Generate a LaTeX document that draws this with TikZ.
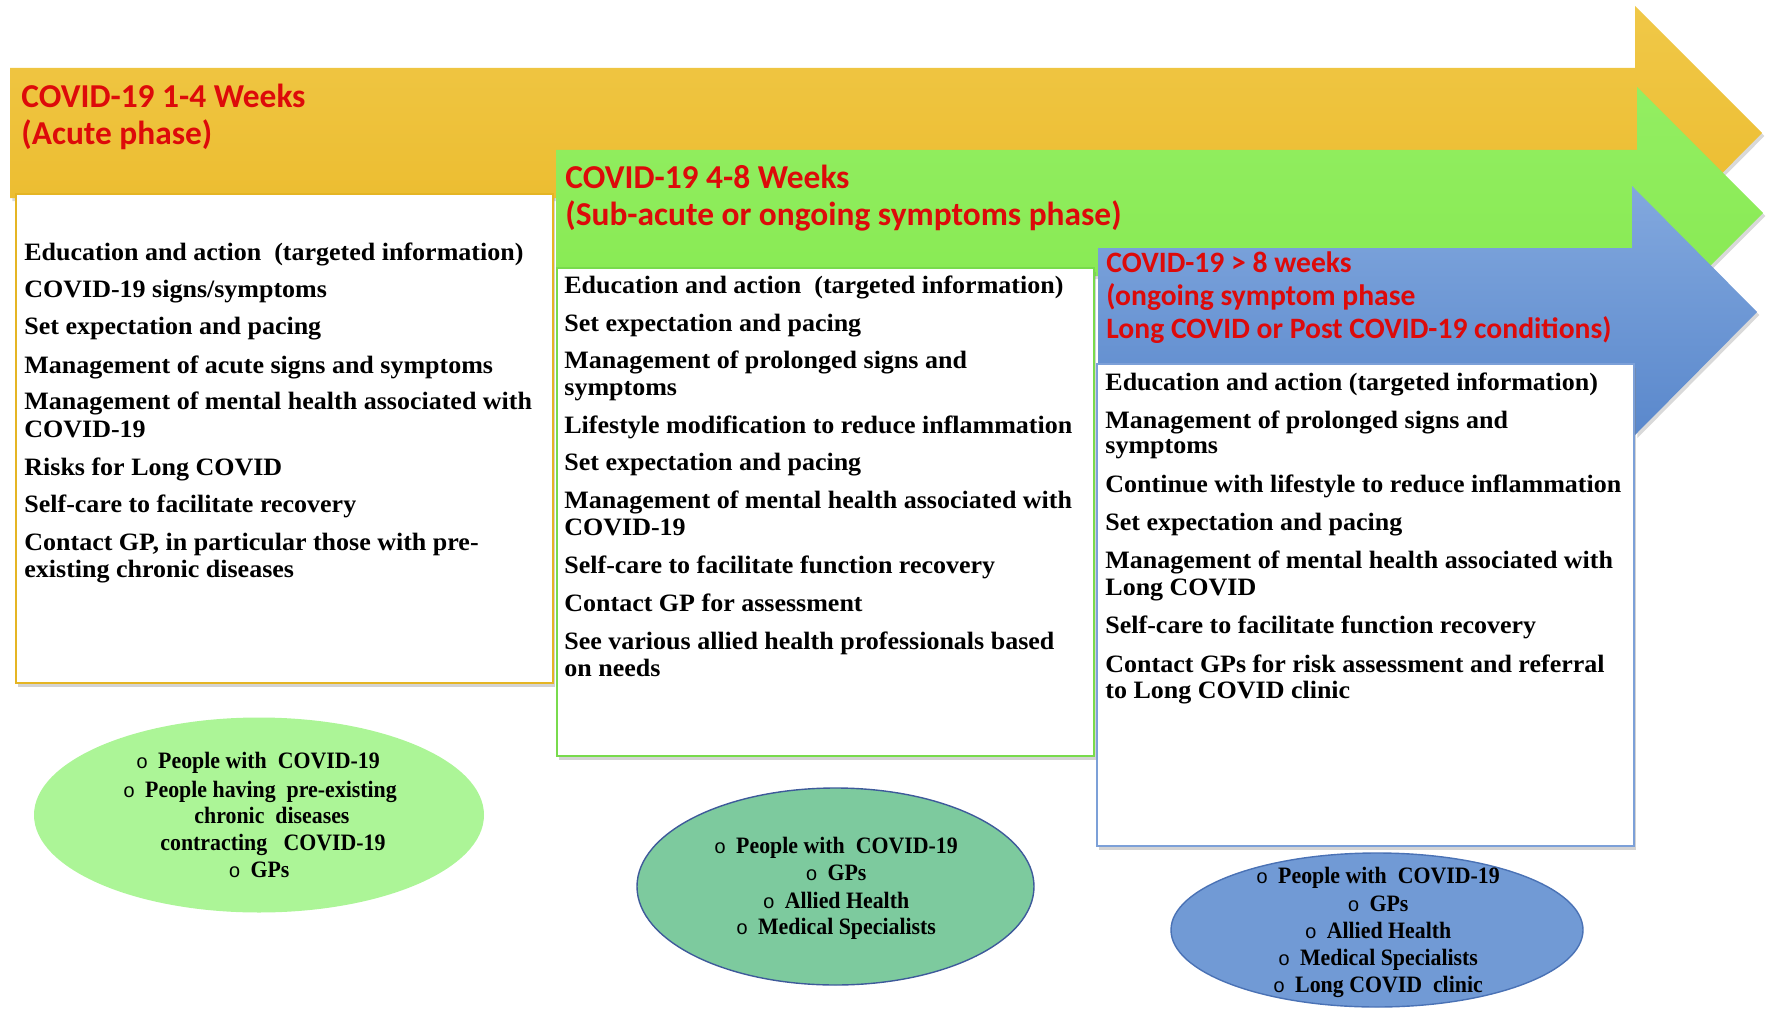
\documentclass[tikz,border=0pt]{standalone}
\usepackage{fontspec}
\setmainfont{Liberation Serif}
\newfontfamily\bodyfont{Liberation Serif}[FakeStretch=1.04]
\newfontfamily\ellfont{Liberation Serif}[FakeStretch=0.93]
\newfontfamily\headfont{Carlito}
\newfontfamily\bulfont{Liberation Mono}
\usetikzlibrary{shapes.geometric,shadows}
\definecolor{yelT}{HTML}{F0C848}
\definecolor{yelB}{HTML}{EBBA2A}
\definecolor{grnT}{HTML}{93EE62}
\definecolor{grnB}{HTML}{86E950}
\definecolor{bluT}{HTML}{82A8DE}
\definecolor{bluB}{HTML}{5A88CC}
\definecolor{ellA}{HTML}{ACF597}
\definecolor{ellB}{HTML}{7DCA9E}
\definecolor{ellBb}{HTML}{3E5A9A}
\definecolor{ellC}{HTML}{719AD5}
\definecolor{ellCb}{HTML}{4A72B5}
\definecolor{brdA}{HTML}{E5B524}
\definecolor{brdB}{HTML}{78DB4C}
\definecolor{brdC}{HTML}{7CA0D8}
\definecolor{hdred}{HTML}{DD0A0A}
\newcommand\bul{{\bulfont\mdseries\fontsize{10}{12}\selectfont o}\hspace{5pt}}
\begin{document}
\begin{tikzpicture}[x=0.5pt,y=-0.5pt,
  arrshadow/.style={drop shadow={shadow xshift=1.2pt,shadow yshift=-1.5pt,opacity=0.3}},
  yarrow/.style={top color=yelT,bottom color=yelB,arrshadow},
  garrow/.style={top color=grnT,bottom color=grnB,arrshadow},
  barrow/.style={top color=bluT,bottom color=bluB,arrshadow},
  wbox/.style={fill=white,line width=1.1pt,anchor=north west,inner sep=0,minimum width=268.5pt,
    drop shadow={shadow xshift=1pt,shadow yshift=-2pt,opacity=0.35}},
  hd/.style={anchor=base west,inner sep=0,text=hdred,font=\headfont\bfseries\fontsize{16.7}{18}\selectfont},
  hds/.style={anchor=base west,inner sep=0,text=hdred,font=\headfont\bfseries\fontsize{14.8}{16}\selectfont},
  bt/.style={anchor=base west,inner sep=0,font=\bodyfont\bfseries\fontsize{12.5}{13.5}\selectfont},
  et/.style={anchor=base,inner sep=0,font=\ellfont\bfseries\fontsize{11.75}{13}\selectfont},
  ell/.style={ellipse,inner sep=0}]
\useasboundingbox (0,0) rectangle (1772,1011);
% arrows
\path[yarrow] (10,68) -- (1635,68) -- (1635,6) -- (1762,133) -- (1635,261) -- (1635,198) -- (10,198) -- cycle;
\path[garrow] (556,150) -- (1637,150) -- (1637,87) -- (1763,213) -- (1637,339) -- (1637,276) -- (556,276) -- cycle;
\path[barrow] (1098,248) -- (1632,248) -- (1632,186) -- (1757,312) -- (1635,435) -- (1635,376) -- (1098,376) -- cycle;
% white boxes
\node[wbox,draw=brdA,minimum height=244.5pt] (w1) at (15,193) {};
\node[wbox,draw=brdB,minimum height=244pt] (w2) at (556,267) {};
\node[wbox,draw=brdC,minimum height=241pt] (w3) at (1096,363) {};
% headers
\node[hd] (h1a) at (21,108) {COVID-19 1-4 Weeks};
\node[hd] (h1b) at (21,145) {(Acute phase)};
\node[hd] (h2a) at (565,188) {COVID-19 4-8 Weeks};
\node[hd] (h2b) at (565,225) {(Sub-acute or ongoing symptoms phase)};
\node[hds] (h3a) at (1106,272) {COVID-19 > 8 weeks};
\node[hds] (h3b) at (1106,305) {(ongoing symptom phase};
\node[hds] (h3c) at (1106,338) {Long COVID or Post COVID-19 conditions)};
% box 1 text
\node[bt] (a1) at (24,260) {Education and action~ (targeted information)};
\node[bt] (a2) at (24,297) {COVID-19 signs/symptoms};
\node[bt] (a3) at (24,334) {Set expectation and pacing};
\node[bt] (a4) at (24,373) {Management of acute signs and symptoms};
\node[bt] (a5) at (24,409) {Management of mental health associated with};
\node[bt] (a5b) at (24,437) {COVID-19};
\node[bt] (a6) at (24,475) {Risks for Long COVID};
\node[bt] (a7) at (24,512) {Self-care to facilitate recovery};
\node[bt] (a8) at (24,550) {Contact GP, in particular those with pre-};
\node[bt] (a8b) at (24,577) {existing chronic diseases};
% box 2 text
\node[bt] (b1) at (564,293) {Education and action~ (targeted information)};
\node[bt] (b2) at (564,331) {Set expectation and pacing};
\node[bt] (b3) at (564,368) {Management of prolonged signs and};
\node[bt] (b3b) at (564,395) {symptoms};
\node[bt] (b4) at (564,433) {Lifestyle modification to reduce inflammation};
\node[bt] (b5) at (564,470) {Set expectation and pacing};
\node[bt] (b6) at (564,508) {Management of mental health associated with};
\node[bt] (b6b) at (564,535) {COVID-19};
\node[bt] (b7) at (564,573) {Self-care to facilitate function recovery};
\node[bt] (b8) at (564,611) {Contact GP for assessment};
\node[bt] (b9) at (564,649) {See various allied health professionals based};
\node[bt] (b9b) at (564,676) {on needs};
% box 3 text
\node[bt] (c1) at (1105,390) {Education and action (targeted information)};
\node[bt] (c2) at (1105,428) {Management of prolonged signs and};
\node[bt] (c2b) at (1105,453) {symptoms};
\node[bt] (c3) at (1105,492) {Continue with lifestyle to reduce inflammation};
\node[bt] (c4) at (1105,530) {Set expectation and pacing};
\node[bt] (c5) at (1105,568) {Management of mental health associated with};
\node[bt] (c5b) at (1105,595) {Long COVID};
\node[bt] (c6) at (1105,633) {Self-care to facilitate function recovery};
\node[bt] (c7) at (1105,672) {Contact GPs for risk assessment and referral};
\node[bt] (c7b) at (1105,698) {to Long COVID clinic};
% ellipses
\node[ell,fill=ellA,minimum width=225pt,minimum height=97.5pt] (e1) at (259,815) {};
\node[ell,fill=ellB,draw=ellBb,line width=0.7pt,minimum width=198.5pt,minimum height=98.5pt] (e2) at (835.5,886.5) {};
\node[ell,fill=ellC,draw=ellCb,line width=0.7pt,minimum width=206pt,minimum height=77pt] (e3) at (1377,930) {};
% ellipse 1 text
\node[et] (p1) at (258,768) {\bul People with~ COVID-19};
\node[et] (p2) at (260,797) {\bul People having~ pre-existing};
\node[et] (p3) at (272,823) {chronic~ diseases};
\node[et] (p4) at (273,850) {contracting~~ COVID-19};
\node[et] (p5) at (259,877) {\bul GPs};
% ellipse 2 text
\node[et] (q1) at (836,853) {\bul People with~ COVID-19};
\node[et] (q2) at (836,880) {\bul GPs};
\node[et] (q3) at (836,908) {\bul Allied Health};
\node[et] (q4) at (836,934) {\bul Medical Specialists};
% ellipse 3 text
\node[et] (r1) at (1378,883) {\bul People with~ COVID-19};
\node[et] (r2) at (1378,911) {\bul GPs};
\node[et] (r3) at (1378,938) {\bul Allied Health};
\node[et] (r4) at (1378,965) {\bul Medical Specialists};
\node[et] (r5) at (1378,992) {\bul Long COVID~ clinic};
\end{tikzpicture}
\end{document}
